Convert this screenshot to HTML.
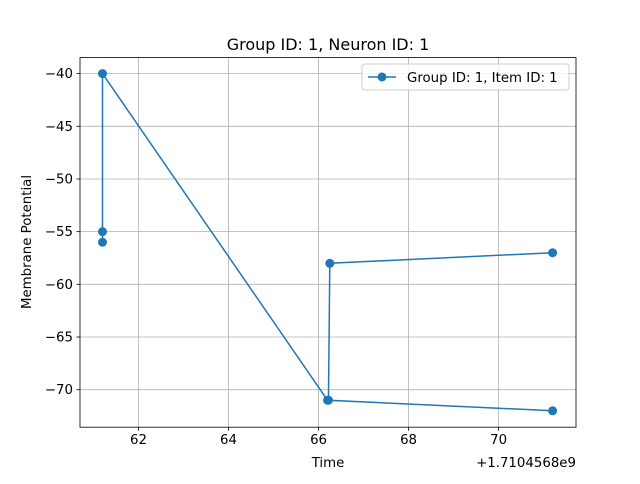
<!DOCTYPE html>
<html><head><meta charset="utf-8"><style>
body{margin:0;background:#fff;font-family:"DejaVu Sans","Liberation Sans",sans-serif;}
text{font-family:"DejaVu Sans","Liberation Sans",sans-serif;}
</style></head><body>
<svg id="chart" width="640" height="480" viewBox="0 0 640 480" xmlns="http://www.w3.org/2000/svg">
<rect width="640" height="480" fill="#fff"/>
<g id="grid"></g>
<g id="ticks"></g>
<g id="series"></g>
<rect x="80" y="57.6" width="496" height="369.6" fill="none" stroke="#000" stroke-width="0.8"/>
<text x="328" y="50" text-anchor="middle" font-size="16">Group ID: 1, Neuron ID: 1</text>
<text x="328" y="467" text-anchor="middle" font-size="13.33">Time</text>
<text x="576" y="467" text-anchor="end" font-size="13.33">+1.7104568e9</text>
<text transform="translate(31,242) rotate(-90)" text-anchor="middle" font-size="13.33">Membrane Potential</text>
<g>
<rect x="362" y="64" width="207" height="26" rx="3" fill="#fff" fill-opacity="0.8" stroke="#ccc"/>
<line x1="368" y1="77" x2="396" y2="77" stroke="#1f77b4" stroke-width="1.5"/>
<circle cx="382" cy="77" r="4.5" fill="#1f77b4"/>
<text x="407" y="82" font-size="13.33">Group ID: 1, Item ID: 1</text>
</g>
</svg>
<script>
const xs = [61.2, 61.2, 61.2, 66.2, 71.2, 66.22, 66.25, 71.2];
const ys = [-56, -55, -40, -71, -72, -71, -58, -57];
const xTicks = [62, 64, 66, 68, 70];
const yTicks = [-40, -45, -50, -55, -60, -65, -70];
const X0=80,X1=576,Y0=57.6,Y1=427.2;
const xMin=60.7, xMax=71.72, yMin=-73.56, yMax=-38.48;
function sx(v){return X0+(v-xMin)/(xMax-xMin)*(X1-X0);}
function sy(v){return Y1-(v-yMin)/(yMax-yMin)*(Y1-Y0);}
const NS="http://www.w3.org/2000/svg";
function mk(tag,attrs,parent){const e=document.createElementNS(NS,tag);for(const k in attrs)e.setAttribute(k,attrs[k]);parent.appendChild(e);return e;}
const grid=document.getElementById('grid'),ticks=document.getElementById('ticks'),series=document.getElementById('series');
xTicks.forEach(t=>{const x=sx(t);
 const g=mk('line',{x1:x,x2:x,y1:Y0,y2:Y1,stroke:'#b0b0b0','stroke-width':0.8},grid);
 
 
 mk('line',{x1:x,x2:x,y1:Y1,y2:Y1+3.5,stroke:'#000','stroke-width':0.8},ticks);
 const l=mk('text',{x:x,y:Y1+17,'text-anchor':'middle','font-size':13.33},ticks);l.textContent=t;
 
 
});
yTicks.forEach(t=>{const y=sy(t);
 const g=mk('line',{x1:X0,x2:X1,y1:y,y2:y,stroke:'#b0b0b0','stroke-width':0.8},grid);
 
 
 mk('line',{x1:X0-3.5,x2:X0,y1:y,y2:y,stroke:'#000','stroke-width':0.8},ticks);
 const l=mk('text',{x:X0-7,y:y+4.5,'text-anchor':'end','font-size':13.33},ticks);l.textContent='\u2212'+Math.abs(t);
 
 
});
const pts=xs.map((v,i)=>sx(v)+','+sy(ys[i])).join(' ');
const line=mk('polyline',{points:pts,fill:'none',stroke:'#1f77b4','stroke-width':1.5},series);


xs.forEach((v,i)=>{const c=mk('circle',{cx:sx(v),cy:sy(ys[i]),r:4.5,fill:'#1f77b4'},series);
 
 
});
</script>
</body></html>
